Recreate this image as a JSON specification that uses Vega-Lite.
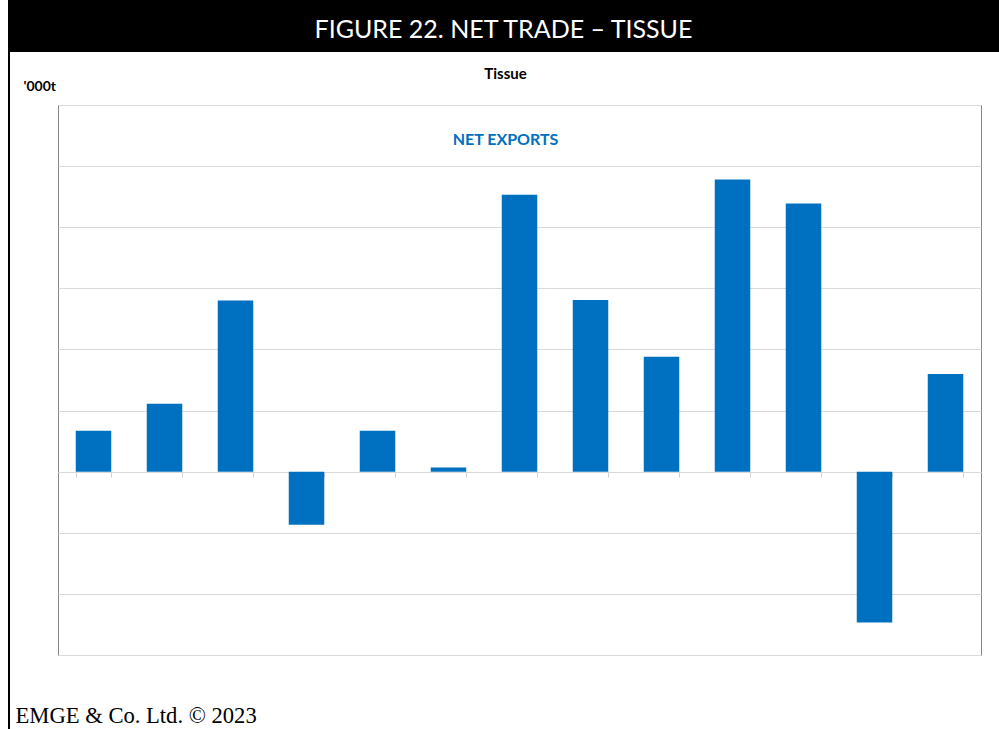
{
  "$schema": "https://vega.github.io/schema/vega-lite/v6.json",
  "padding": {"left": 8, "top": 0, "right": 0, "bottom": 0},
  "background": "white",
  "spacing": 0,
  "config": {"view": {"stroke": null}, "font": "Lato"},
  "vconcat": [
    {
      "width": 991,
      "height": 52,
      "view": {"fill": "black", "stroke": null},
      "data": {"values": [{"title": "FIGURE 22. NET TRADE – TISSUE"}]},
      "mark": {"type": "text", "color": "white", "font": "Lato", "fontSize": 25, "baseline": "middle", "dy": 4},
      "encoding": {"text": {"field": "title"}}
    },
    {
      "spacing": 4,
      "hconcat": [
        {
          "width": 2,
          "height": 677,
          "view": {"fill": "black", "stroke": null},
          "data": {"values": [{"t": 1}]},
          "mark": {"type": "rect", "color": "black"},
          "encoding": {}
        },
        {
          "spacing": 13,
          "vconcat": [
            {
              "width": 1,
              "height": 1,
              "data": {"values": [{"t": 1}]},
              "mark": {"type": "rect", "opacity": 0},
              "encoding": {}
            },
            {
              "width": 923,
              "height": 550,
              "view": {"stroke": "#868686", "strokeWidth": 1},
              "title": {
                "text": "Tissue",
                "font": "Lato",
                "fontSize": 15,
                "fontWeight": "bold",
                "color": "#000000",
                "offset": -3,
                "dx": -14,
                "anchor": "middle"
              },
              "data": {
                "values": [
                  {"year": "2010", "net": 6.7},
                  {"year": "2011", "net": 11.1},
                  {"year": "2012", "net": 28.0},
                  {"year": "2013", "net": -8.7},
                  {"year": "2014", "net": 6.7},
                  {"year": "2015", "net": 0.7},
                  {"year": "2016", "net": 45.3},
                  {"year": "2017", "net": 28.1},
                  {"year": "2018", "net": 18.8},
                  {"year": "2019", "net": 47.8},
                  {"year": "2020", "net": 43.9},
                  {"year": "2021", "net": -24.7},
                  {"year": "2022", "net": 16.0}
                ]
              },
              "encoding": {
                "x": {
                  "field": "year",
                  "type": "ordinal",
                  "scale": {"paddingInner": 0.5, "paddingOuter": 0.25},
                  "axis": {
                    "offset": -183,
                    "labels": false,
                    "domainColor": "#d9d9d9",
                    "tickColor": "#d0d0d0",
                    "tickSize": 5,
                    "tickBand": "extent",
                    "grid": false,
                    "title": "EMGE & Co. Ltd. © 2023",
                    "titleFont": "Liberation Serif",
                    "titleFontSize": 22.6,
                    "titleFontWeight": "normal",
                    "titleColor": "#000000",
                    "titleX": -43,
                    "titleY": 250,
                    "titleAlign": "left",
                    "titleBaseline": "alphabetic"
                  }
                },
                "y": {
                  "field": "net",
                  "type": "quantitative",
                  "scale": {"domain": [-30, 60], "nice": false, "zero": false},
                  "axis": {
                    "values": [-30, -20, -10, 0, 10, 20, 30, 40, 50, 60],
                    "labels": false,
                    "ticks": false,
                    "domain": false,
                    "grid": true,
                    "gridColor": "#d9d9d9",
                    "title": "'000t",
                    "titleAngle": 0,
                    "titleX": -35,
                    "titleY": -15,
                    "titleAlign": "left",
                    "titleBaseline": "alphabetic",
                    "titleFont": "Lato",
                    "titleFontSize": 14,
                    "titleFontWeight": "bold",
                    "titleColor": "#000000"
                  }
                }
              },
              "layer": [
                {"mark": {"type": "bar", "color": "#0070C0"}},
                {
                  "data": {"values": [{"label": "NET EXPORTS", "at": 54.3}]},
                  "mark": {"type": "text", "color": "#0070C0", "font": "Lato", "fontSize": 16, "fontWeight": "bold", "baseline": "middle", "dx": -14},
                  "encoding": {
                    "x": null,
                    "y": {"field": "at", "type": "quantitative"},
                    "text": {"field": "label"}
                  }
                }
              ]
            }
          ]
        }
      ]
    }
  ]
}
